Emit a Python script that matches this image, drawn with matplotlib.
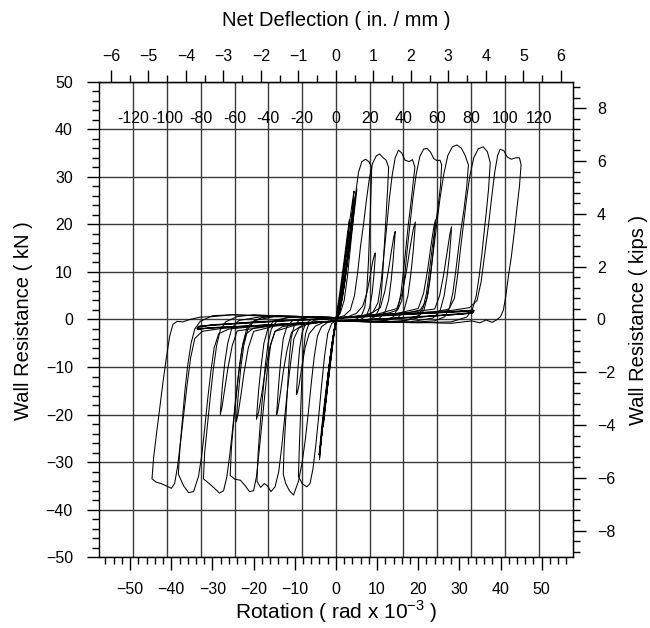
import matplotlib
matplotlib.use('Agg')
import matplotlib.pyplot as plt
from matplotlib.ticker import MultipleLocator

plt.rcParams['font.family'] = ['Liberation Sans', 'DejaVu Sans']

#########################################################
# unit relations read off the three scales of the chart

ROT_PER_IN = 9.11       # rad x 10^-3 per inch (top scale)
ROT_PER_MM = 0.4105     # rad x 10^-3 per mm (grid labels)
KIPS_PER_KN = 0.18      # right scale

MM_GRID = [-120, -100, -80, -60, -40, -20, 0, 20, 40, 60, 80, 100, 120]

#########################################################
# hysteresis, rotation (rad x 10^-3) / resistance (kN)

E_ROT = [0.0, 0.8, 1.6, 2.4, 3.1, 3.8, 4.4, 4.2, 3.7, 3.1, 2.4, 1.6, 0.8, 0.0,
         -0.8, -1.5, -2.2, -2.9, -3.5, -4.0, -3.8, -3.3, -2.6, -1.9, -1.1, -0.3, 0.0,
         1.0, 2.0, 2.8, 3.3, 2.9, 2.2, 1.3, 0.4, -0.4, -1.2, -2.0, -2.7, -3.1,
         -2.7, -2.0, -1.2, -0.4, 0.0, 1.1, 2.2, 3.2, 4.0, 4.6, 5.1, 4.8, 4.0,
         3.0, 2.0, 1.0, 0.0, -1.0, -2.0, -3.0, -3.6, -4.1, -3.9, -3.0, -2.0,
         -1.0, 0.0, 0.9, 1.9, 2.9, 3.7, 4.3, 4.1, 3.4, 2.5, 1.5, 0.5, -0.5,
         -1.5, -2.4, -3.2, -3.8, -3.5, -2.6, -1.6, -0.6, 0.0]
E_KN = [0.2, 3.5, 8.5, 14.0, 19.0, 23.5, 27.0, 24.5, 20.0, 15.0, 9.5, 4.5, 1.2, -0.8,
        -4.0, -9.0, -14.5, -20.0, -25.0, -29.5, -27.0, -22.5, -17.0, -11.5, -6.0, -1.5, 0.2,
        6.0, 12.5, 18.0, 21.0, 17.5, 12.0, 6.0, 1.0, -2.5, -8.0, -14.0, -19.5, -22.5,
        -19.0, -13.5, -7.5, -2.0, 0.0, 5.0, 11.0, 17.5, 22.5, 25.5, 27.5, 25.0, 19.5,
        13.0, 7.0, 2.0, -1.0, -5.5, -12.0, -19.0, -24.0, -28.5, -27.5, -21.0, -14.0,
        -7.0, 0.0, 2.5, 7.5, 13.5, 19.0, 23.5, 21.0, 16.0, 10.5, 5.0, 1.0, -2.5,
        -8.5, -15.5, -22.0, -27.0, -24.5, -17.5, -10.5, -3.5, 0.0]

C1_ROT = [0.0, 1.0, 2.0, 2.8, 3.5, 4.2, 4.8, 5.5, 6.3, 7.2, 8.0, 8.7,
          8.5, 8.2, 7.9, 7.5, 7.0, 6.2, 5.0, 3.0, 0.0,
          -1.0, -2.0, -2.8, -3.5, -4.2, -4.9, -5.6, -6.3, -7.1, -8.2, -9.1,
          -8.9, -8.6, -8.3, -7.9, -7.4, -6.6, -5.4, -3.0, 0.0]
C1_KN = [0.3, 1.2, 4.0, 9.0, 15.0, 21.0, 26.5, 31.0, 33.2, 33.7, 33.2, 32.0,
         26.0, 19.0, 12.0, 6.0, 2.5, 0.8, 0.1, -0.2, -0.3,
         -0.8, -3.0, -8.0, -14.0, -20.5, -26.5, -31.5, -34.5, -35.2, -34.5, -33.0,
         -27.0, -20.0, -13.0, -7.0, -3.0, -1.0, -0.2, 0.2, 0.3]

C2_ROT = [0.0, 2.0, 3.5, 4.5, 5.3, 6.0, 6.7, 7.4, 8.1, 8.9, 9.8, 10.6, 11.5, 12.2, 12.8,
          12.6, 12.2, 11.8, 11.4, 11.0, 10.4, 9.5, 8.0, 6.0, 3.0, 0.0,
          -2.0, -3.5, -4.5, -5.3, -6.0, -6.7, -7.4, -8.2, -9.1, -10.3, -11.3, -12.2, -12.8,
          -12.6, -12.2, -11.8, -11.4, -10.9, -10.2, -9.0, -7.0, -4.0, 0.0]
C2_KN = [0.3, 0.8, 2.0, 5.0, 10.0, 15.5, 20.0, 25.0, 29.5, 32.8, 34.4, 34.8, 34.0, 33.5, 32.0,
         28.0, 22.0, 16.0, 10.0, 5.0, 2.0, 0.6, 0.0, -0.3, -0.3, -0.3,
         -0.6, -1.5, -3.5, -8.0, -13.5, -19.5, -25.0, -30.0, -34.0, -36.9, -36.0, -34.5, -32.5,
         -27.0, -21.0, -15.0, -9.0, -4.0, -1.5, -0.2, 0.4, 0.5, 0.4]

T2_ROT = [0.0, 3.0, 5.0, 6.5, 7.5, 8.3, 8.9, 9.4, 9.6, 9.5, 9.2, 8.8, 8.2, 7.4, 6.0, 3.0, 0.0,
          -3.0, -5.0, -6.5, -7.5, -8.3, -8.9, -9.4, -9.6, -9.5, -9.2, -8.8, -8.2, -7.4,
          -6.0, -3.0, 0.0]
T2_KN = [0.3, 0.6, 1.3, 2.8, 5.5, 9.0, 12.0, 13.8, 14.0, 12.5, 9.0, 5.5, 2.5, 0.8, 0.0,
         -0.3, -0.3, -0.6, -1.4, -3.0, -6.0, -10.0, -13.5, -15.5, -15.8, -14.0, -10.0, -6.0,
         -2.8, -0.9, 0.0, 0.3, 0.3]

C3_ROT = [0.0, 4.0, 7.0, 9.0, 10.2, 11.0, 11.7, 12.4, 13.0, 13.7, 14.4, 15.2, 16.0, 16.8,
          17.8, 18.6, 19.2, 18.8, 18.3, 17.6, 17.0, 16.4, 15.8, 15.1, 14.0, 12.0, 8.0, 4.0, 0.0,
          -4.0, -7.0, -9.0, -10.2, -11.0, -11.8, -12.5, -13.2, -13.9, -14.8, -15.8, -16.6,
          -17.4, -18.3, -19.2, -18.9, -18.4, -17.8, -17.2, -16.5, -15.7, -14.5, -12.0,
          -9.0, -5.0, 0.0]
C3_KN = [0.3, 0.5, 0.9, 1.5, 3.5, 8.0, 14.0, 20.0, 25.5, 30.5, 34.0, 35.6, 35.0, 33.5,
         33.2, 33.6, 32.0, 29.0, 25.0, 20.0, 15.0, 10.0, 5.5, 2.5, 0.6, -0.2, -0.4, -0.3, -0.3,
         -0.6, -1.0, -1.8, -4.0, -9.0, -15.0, -21.0, -27.0, -32.0, -35.2, -36.2, -35.0,
         -34.5, -35.3, -34.0, -28.0, -22.0, -16.0, -10.0, -5.0, -2.0, -0.5, 0.4,
         0.6, 0.5, 0.4]

T3_ROT = [0.0, 4.0, 8.0, 10.8, 11.9, 12.8, 13.5, 14.1, 14.4, 14.3, 13.9, 13.4, 12.8, 11.9,
          10.5, 7.0, 3.0, 0.0, -4.0, -8.0, -10.8, -11.9, -12.8, -13.5, -14.1, -14.4, -14.3,
          -13.9, -13.4, -12.8, -11.9, -10.5, -7.0, -3.0, 0.0]
T3_KN = [0.3, 0.6, 1.0, 2.5, 6.0, 10.5, 14.5, 17.5, 18.5, 17.0, 12.5, 8.0, 4.0, 1.5,
         0.2, -0.3, -0.3, -0.3, -0.6, -1.1, -2.7, -6.5, -11.0, -15.5, -19.0, -20.0, -18.5,
         -13.5, -8.5, -4.0, -1.5, -0.2, 0.4, 0.4, 0.3]

C4_ROT = [0.0, 5.0, 10.0, 13.0, 15.0, 16.0, 16.7, 17.3, 18.0, 18.7, 19.5, 20.4, 21.3, 22.1,
          23.0, 23.8, 24.6, 25.3, 25.7, 25.4, 24.8, 24.1, 23.4, 22.7, 22.0, 21.2, 20.0,
          17.0, 12.0, 6.0, 0.0,
          -5.0, -10.0, -13.0, -14.8, -15.8, -16.6, -17.3, -18.0, -18.7, -19.3, -20.0, -21.0,
          -22.0, -23.2, -24.5, -25.7, -25.4, -24.8, -24.1, -23.4, -22.6, -21.7, -20.5,
          -18.0, -14.0, -10.0, -5.0, 0.0]
C4_KN = [0.3, 0.6, 1.0, 1.4, 2.0, 4.0, 9.0, 14.5, 20.0, 25.5, 30.5, 34.3, 35.8, 36.0,
         35.2, 33.8, 33.4, 33.5, 32.5, 28.0, 23.5, 19.5, 15.0, 10.0, 5.5, 2.5, 0.8,
         -0.2, -0.5, -0.4, -0.3,
         -0.7, -1.1, -1.5, -2.5, -5.0, -10.0, -16.0, -22.0, -28.0, -33.0, -36.0, -36.2,
         -35.0, -33.8, -33.6, -32.8, -27.0, -21.0, -15.0, -9.5, -5.0, -2.0, -0.6,
         0.4, 0.8, 0.7, 0.5, 0.4]

T4_ROT = [0.0, 5.0, 10.0, 14.8, 16.1, 17.2, 18.1, 18.8, 19.3, 19.2, 18.8, 18.2, 17.5, 16.5,
          15.0, 11.0, 5.0, 0.0, -5.0, -10.0, -14.8, -16.1, -17.2, -18.1, -18.8, -19.3, -19.2,
          -18.8, -18.2, -17.5, -16.5, -15.0, -11.0, -5.0, 0.0]
T4_KN = [0.3, 0.7, 1.1, 2.3, 5.5, 10.5, 15.5, 19.0, 20.5, 19.0, 14.5, 9.5, 5.0, 1.8,
         0.3, -0.4, -0.4, -0.3, -0.7, -1.2, -2.5, -6.0, -11.0, -16.0, -19.5, -21.0, -19.5,
         -15.0, -10.0, -5.0, -1.8, -0.2, 0.5, 0.5, 0.4]

C5_ROT = [0.0, 6.0, 12.0, 18.0, 20.5, 22.0, 22.9, 23.7, 24.5, 25.3, 26.2, 27.2, 28.3, 29.4,
          30.5, 31.4, 32.2, 31.8, 31.1, 30.4, 29.8, 29.1, 28.4, 27.6, 26.5, 24.0, 18.0, 10.0, 0.0,
          -8.0, -16.0, -20.0, -21.8, -22.8, -23.6, -24.4, -25.1, -25.8, -26.5, -27.3, -28.3,
          -29.5, -30.8, -32.2, -31.9, -31.2, -30.5, -29.8, -29.0, -28.1, -26.8, -24.0,
          -20.0, -15.0, -8.0, 0.0]
C5_KN = [0.3, 0.7, 1.1, 1.5, 2.0, 4.0, 9.0, 14.5, 20.0, 25.5, 30.5, 34.5, 36.3, 36.7,
         36.0, 34.5, 32.5, 28.0, 23.0, 19.0, 15.0, 10.0, 5.5, 2.5, 0.6, -0.3, -0.6, -0.5, -0.3,
         -0.8, -1.3, -1.8, -3.0, -6.0, -11.0, -17.0, -23.0, -28.5, -33.0, -36.0, -36.5,
         -35.5, -34.5, -33.5, -28.0, -22.0, -16.0, -10.5, -5.5, -2.2, -0.5, 0.6,
         1.0, 0.8, 0.6, 0.4]

T5_ROT = [0.0, 8.0, 15.0, 20.0, 21.3, 22.3, 23.1, 23.8, 24.2, 24.1, 23.7, 23.1, 22.4, 21.4,
          19.8, 15.0, 8.0, 0.0, -8.0, -15.0, -20.0, -21.3, -22.3, -23.1, -23.8, -24.2, -24.1,
          -23.7, -23.1, -22.4, -21.4, -19.8, -15.0, -8.0, 0.0]
T5_KN = [0.3, 0.8, 1.3, 2.3, 5.5, 10.5, 15.5, 19.5, 21.0, 19.5, 15.0, 10.0, 5.5, 2.0,
         0.3, -0.5, -0.5, -0.3, -0.8, -1.4, -2.5, -6.0, -11.0, -16.0, -20.0, -21.5, -20.0,
         -15.5, -10.0, -5.5, -2.0, -0.2, 0.6, 0.6, 0.4]

C6_ROT = [0.0, 8.0, 16.0, 24.0, 27.5, 28.8, 29.6, 30.3, 31.0, 31.7, 32.5, 33.5, 34.6, 35.8,
          36.8, 37.5, 37.1, 36.6, 36.1, 35.5, 34.8, 34.1, 33.2, 31.8, 28.0, 20.0, 10.0, 0.0,
          -10.0, -20.0, -26.0, -28.5, -29.6, -30.4, -31.2, -31.9, -32.6, -33.4, -34.6, -35.8,
          -37.0, -38.3, -37.9, -37.3, -36.7, -36.0, -35.2, -34.3, -33.0, -30.0, -25.0,
          -18.0, -10.0, 0.0]
C6_KN = [0.3, 0.8, 1.2, 1.6, 2.2, 4.5, 9.5, 15.0, 20.0, 25.0, 30.0, 34.0, 35.9, 36.3,
         35.3, 33.0, 27.5, 23.0, 19.0, 14.0, 9.0, 5.0, 2.2, 0.5, -0.5, -0.7, -0.5, -0.3,
         -0.9, -1.5, -2.0, -3.0, -6.0, -11.0, -17.0, -23.0, -28.5, -33.0, -36.2, -36.4,
         -35.0, -32.5, -27.0, -21.0, -15.0, -9.5, -5.0, -2.0, -0.4, 0.8, 1.0,
         0.8, 0.6, 0.4]

T6_ROT = [0.0, 8.0, 16.0, 24.0, 25.2, 26.2, 27.0, 27.7, 28.1, 28.0, 27.6, 27.0, 26.3, 25.3,
          23.6, 18.0, 9.0, 0.0, -8.0, -16.0, -24.0, -25.2, -26.2, -27.0, -27.7, -28.1, -28.0,
          -27.6, -27.0, -26.3, -25.3, -23.6, -18.0, -9.0, 0.0]
T6_KN = [0.3, 0.8, 1.3, 2.2, 5.0, 9.5, 14.0, 18.0, 19.5, 18.0, 13.5, 9.0, 5.0, 1.8,
         0.3, -0.5, -0.5, -0.3, -0.8, -1.4, -2.4, -5.5, -10.0, -14.5, -18.5, -20.0, -18.5,
         -14.0, -9.0, -5.0, -1.8, -0.2, 0.6, 0.6, 0.4]

C7_ROT = [0.0, 10.0, 20.0, 28.0, 32.5, 34.3, 35.3, 36.2, 37.1, 37.9, 38.6, 39.3, 39.9, 40.8,
          41.6, 42.6, 43.7, 44.6, 45.0, 44.6, 44.0, 43.3, 42.6, 41.9, 41.3, 40.7, 40.0, 39.2,
          38.0, 36.5, 35.0, 33.0, 28.0, 20.0, 10.0, 0.0,
          -10.0, -20.0, -28.0, -32.5, -34.3, -35.3, -36.2, -37.0, -37.8, -38.5, -39.2, -40.0,
          -41.2, -42.5, -43.7, -44.7, -44.3, -43.6, -42.8, -42.0, -41.2, -40.4, -39.6,
          -38.6, -37.2, -35.5, -33.0, -30.0, -25.0, -20.0, -10.0, 0.0]
C7_KN = [0.3, 0.9, 1.4, 1.9, 2.5, 4.0, 8.0, 14.0, 20.0, 26.0, 31.0, 34.5, 35.8, 35.5,
         34.2, 33.7, 34.0, 34.0, 32.5, 28.0, 23.5, 18.0, 13.0, 9.0, 5.0, 2.0, 0.6, 0.0,
         -0.6, -0.1, -0.7, -0.3, -0.8, -0.6, -0.5, -0.3,
         -0.9, -1.4, -1.9, -2.5, -4.0, -8.0, -14.0, -20.0, -26.0, -31.0, -34.5, -35.5,
         -35.0, -34.5, -34.2, -33.5, -29.0, -24.0, -18.5, -13.0, -8.0, -3.5, -1.0,
         -0.4, -0.5, 0.0, 0.5, 0.6, 1.0, 0.8, 0.6, 0.4]

# post-failure cycles, strength lost
B_ROT = [0.0, 10.0, 20.0, 30.0, 33.6, 33.3, 30.0, 20.0, 10.0, 0.0, -10.0, -20.0, -30.0,
         -33.8, -33.5, -30.0, -20.0, -10.0, 0.0, 10.0, 20.0, 30.0, 33.4, 33.0, 30.0,
         20.0, 10.0, 0.0, -10.0, -20.0, -30.0, -33.6, -33.2, -30.0, -20.0, -10.0, 0.0,
         10.0, 20.0, 30.0, 33.5, 33.1, 20.0, 0.0, -20.0, -33.7, -33.3, -20.0, 0.0]
B_KN = [0.3, 0.8, 1.3, 1.8, 1.9, 1.4, 1.1, 0.5, 0.0, -0.4, -0.9, -1.4, -1.8,
        -2.0, -1.5, -1.1, -0.6, -0.1, 0.3, 0.8, 1.2, 1.7, 2.0, 1.5, 1.2,
        0.6, 0.1, -0.3, -0.8, -1.3, -1.7, -2.1, -1.6, -1.2, -0.7, -0.2, 0.2,
        0.7, 1.2, 1.6, 1.8, 1.3, 0.5, -0.3, -1.3, -1.9, -1.4, -0.5, 0.2]

CURVES = [(E_ROT, E_KN), (C1_ROT, C1_KN), (C2_ROT, C2_KN), (T2_ROT, T2_KN),
          (C3_ROT, C3_KN), (T3_ROT, T3_KN), (C4_ROT, C4_KN), (T4_ROT, T4_KN),
          (C5_ROT, C5_KN), (T5_ROT, T5_KN), (C6_ROT, C6_KN), (T6_ROT, T6_KN),
          (C7_ROT, C7_KN), (B_ROT, B_KN)]

#########################################################

fig = plt.figure(figsize=(6.5, 6.28), dpi=100)
ax = fig.add_axes([0.1528, 0.1126, 0.7280, 0.7573])

for rot, kn in CURVES:
    ax.plot(rot, kn, color='black', lw=0.75, solid_joinstyle='round')

ax.set_xlim(-57.5, 57.5)
ax.set_ylim(-50, 50)

# grid: vertical lines follow the mm scale, horizontal the kN scale
for mm in MM_GRID:
    ax.axvline(mm * ROT_PER_MM, color='#3a3a3a', lw=1.0, zorder=0)
    ax.text(mm * ROT_PER_MM, 42.3, str(mm), ha='center', va='center', fontsize=11.5)
ax.yaxis.grid(True, color='#3a3a3a', lw=1.0, zorder=0)
ax.set_axisbelow(True)

ax.xaxis.set_major_locator(MultipleLocator(10))
ax.xaxis.set_minor_locator(MultipleLocator(2))
ax.yaxis.set_major_locator(MultipleLocator(10))
ax.yaxis.set_minor_locator(MultipleLocator(2))
ax.tick_params(which='major', direction='out', length=9, width=1, labelsize=11.5)
ax.tick_params(which='minor', direction='out', length=4.8, width=1)
ax.tick_params(axis='x', pad=8.5)
ax.tick_params(axis='y', pad=10)

top = ax.secondary_xaxis('top', functions=(lambda r: r / ROT_PER_IN,
                                            lambda d: d * ROT_PER_IN))
top.xaxis.set_major_locator(MultipleLocator(1))
top.xaxis.set_minor_locator(MultipleLocator(0.5))
top.tick_params(which='major', direction='out', length=9, width=1, labelsize=11.5, pad=4)
top.tick_params(which='minor', direction='out', length=4.8, width=1)

right = ax.secondary_yaxis('right', functions=(lambda k: k * KIPS_PER_KN,
                                               lambda p: p / KIPS_PER_KN))
right.yaxis.set_major_locator(MultipleLocator(2))
right.yaxis.set_minor_locator(MultipleLocator(0.4))
right.tick_params(which='major', direction='out', length=9, width=1, labelsize=11.5, pad=8.5)
right.tick_params(which='minor', direction='out', length=4.8, width=1)

for sp in ax.spines.values():
    sp.set_linewidth(1.0)

fig.text(0.517, 0.968, 'Net Deflection ( in. / mm )', ha='center', va='center', fontsize=14.5)
fig.text(0.517, 0.026, r'Rotation ( rad x 10$^{\mathregular{-3}}$ )', ha='center',
         va='center', fontsize=15)
fig.text(0.036, 0.49, 'Wall Resistance ( kN )', ha='center', va='center',
         rotation=90, fontsize=14.5)
fig.text(0.982, 0.49, 'Wall Resistance ( kips )', ha='center', va='center',
         rotation=90, fontsize=14.5)

fig.savefig('out.png', dpi=100)
